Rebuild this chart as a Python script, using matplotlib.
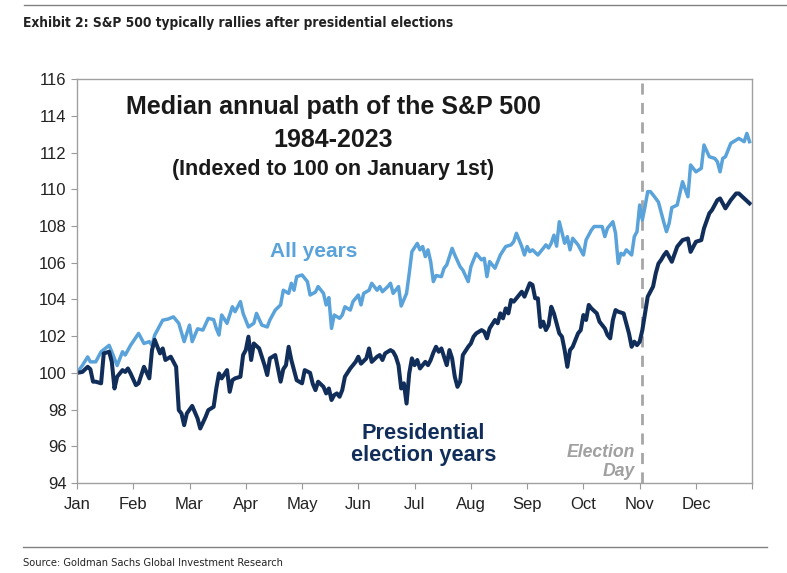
import matplotlib
matplotlib.use("Agg")
import matplotlib.pyplot as plt
from matplotlib.lines import Line2D
from matplotlib import font_manager

# trading day of the year and median index level
all_days = [0, 2, 4, 5, 7, 9, 12, 13, 15, 17, 18, 20, 23, 25, 27, 28, 29, 32, 34, 36,
            38, 40, 42, 43, 45, 47, 49, 51, 52, 53, 54, 56, 58, 59, 61, 62, 64, 66, 67, 69,
            71, 72, 74, 76, 77, 79, 80, 81, 82, 84, 86, 87, 89, 90, 92, 93, 94, 95, 96, 98,
            99, 100, 102, 103, 105, 106, 107, 109, 110, 112, 113, 114, 116, 117, 118, 120, 121, 123, 124, 125,
            127, 128, 129, 130, 131, 132, 133, 134, 136, 137, 138, 140, 141, 143, 144, 146, 147, 148, 149, 151,
            152, 153, 154, 156, 157, 158, 160, 162, 163, 164, 166, 167, 168, 169, 170, 172, 173, 174, 175, 176,
            177, 178, 179, 180, 182, 183, 184, 185, 187, 189, 190, 192, 193, 195, 196, 197, 198, 200, 201, 202,
            203, 204, 205, 207, 208, 209, 210, 211, 212, 213, 214, 215, 216, 217, 219, 220, 221, 222, 224, 226,
            228, 229, 231, 233, 234, 236, 238, 239, 240, 241, 242, 244, 246, 247, 249, 250, 251]
all_years = [100.0, 100.4, 100.87, 100.6, 100.6, 101.15, 101.5, 101.15, 100.4, 101.15, 100.97, 101.5, 102.15, 101.6, 101.7, 101.5, 102.05, 102.87, 102.93, 103.05,
             102.7, 101.7, 102.6, 101.7, 102.4, 102.33, 102.97, 102.9, 102.42, 102.06, 103.15, 102.7, 103.6, 103.33, 103.88, 103.24, 102.5, 102.7, 103.24, 102.6,
             102.5, 102.88, 103.42, 103.7, 104.5, 104.33, 104.88, 104.5, 105.24, 105.33, 104.97, 104.24, 104.4, 104.7, 104.33, 103.7, 104.1, 102.42, 103.15, 102.97,
             103.15, 103.6, 103.42, 103.88, 104.24, 103.7, 104.33, 104.5, 104.88, 104.5, 104.7, 104.42, 104.7, 104.88, 104.33, 104.7, 103.64, 104.33, 105.42, 106.6,
             107.05, 106.7, 106.88, 106.33, 106.7, 106.06, 104.97, 105.3, 105.24, 105.7, 105.88, 106.78, 106.42, 105.78, 105.6, 104.97, 105.78, 106.15, 106.5, 106.15,
             106.24, 105.24, 106.06, 105.7, 106.06, 106.42, 106.88, 106.97, 107.15, 107.6, 106.88, 106.42, 106.88, 106.6, 106.7, 106.42, 106.6, 106.78, 106.97, 106.8,
             107.06, 107.5, 106.9, 108.23, 107.06, 107.42, 106.7, 107.33, 106.97, 106.42, 107.24, 107.78, 107.97, 107.97, 107.97, 107.42, 107.88, 108.23, 107.6, 105.96,
             106.51, 106.42, 106.7, 106.42, 107.42, 107.69, 109.14, 108.33, 109.06, 109.87, 109.87, 109.69, 109.5, 109.3, 108.2, 107.69, 108.15, 109.0, 109.14, 110.41,
             109.59, 111.32, 110.95, 111.14, 112.41, 111.77, 111.68, 111.5, 110.95, 111.68, 111.77, 112.5, 112.68, 112.77, 112.59, 113.04, 112.59]

pres_days = [0, 2, 4, 5, 6, 7, 9, 10, 12, 13, 14, 15, 17, 18, 19, 20, 22, 23, 25, 27,
             28, 29, 31, 32, 33, 35, 36, 37, 38, 39, 40, 41, 43, 45, 46, 48, 49, 51, 52, 53,
             54, 56, 57, 58, 59, 61, 62, 63, 64, 65, 66, 68, 70, 71, 72, 74, 76, 77, 78, 79,
             80, 82, 84, 85, 87, 88, 89, 90, 92, 93, 94, 95, 96, 97, 98, 99, 100, 102, 103, 104,
             105, 106, 108, 109, 110, 112, 113, 114, 115, 117, 118, 119, 120, 121, 122, 123, 124, 125, 126, 127,
             128, 130, 131, 132, 133, 134, 135, 136, 138, 139, 140, 141, 142, 143, 144, 146, 147, 148, 149, 151,
             152, 153, 154, 156, 157, 158, 159, 160, 161, 162, 163, 165, 166, 167, 169, 170, 171, 172, 173, 174,
             175, 176, 177, 178, 180, 181, 182, 183, 184, 185, 187, 188, 189, 190, 191, 192, 194, 195, 197, 198,
             199, 200, 201, 202, 204, 205, 206, 207, 208, 209, 210, 211, 212, 213, 215, 216, 217, 218, 219, 220,
             222, 224, 226, 228, 229, 231, 233, 234, 236, 237, 239, 240, 242, 244, 246, 247, 249, 251]
pres_years = [100.0, 100.05, 100.33, 100.2, 99.52, 99.52, 99.43, 101.06, 101.15, 100.6, 99.15, 99.79, 100.15, 100.05, 100.24, 99.97, 99.33, 99.43, 100.33, 99.7,
              101.24, 101.8, 101.06, 101.33, 100.7, 100.88, 100.6, 100.33, 97.97, 97.79, 97.15, 97.79, 98.2, 97.52, 96.97, 97.6, 97.97, 98.15, 99.15, 99.97,
              99.7, 100.15, 98.97, 99.6, 99.7, 99.79, 100.97, 101.24, 101.97, 100.7, 101.6, 101.33, 100.42, 99.88, 100.79, 100.97, 99.52, 100.2, 100.42, 101.42,
              100.7, 99.6, 99.43, 100.15, 100.0, 99.4, 99.06, 99.52, 99.24, 98.88, 99.15, 98.52, 98.79, 98.88, 98.7, 99.06, 99.79, 100.24, 100.42, 100.6,
              100.88, 100.5, 100.79, 101.33, 100.6, 100.88, 100.97, 100.7, 101.06, 101.24, 101.15, 100.88, 100.42, 99.15, 99.43, 98.33, 99.97, 100.79, 100.42, 100.7,
              100.24, 100.6, 100.42, 100.7, 101.1, 101.42, 101.15, 101.33, 100.42, 101.24, 100.79, 99.79, 99.24, 99.52, 100.97, 101.42, 101.6, 101.97, 102.15, 102.33,
              102.24, 101.88, 102.42, 102.88, 102.7, 103.24, 102.97, 103.51, 103.24, 103.97, 103.88, 104.24, 104.42, 104.15, 104.88, 104.79, 104.06, 104.06, 102.5, 102.79,
              102.33, 102.6, 103.6, 103.24, 102.15, 101.97, 101.24, 100.33, 101.24, 101.42, 102.15, 102.33, 103.15, 102.88, 103.7, 103.51, 103.24, 102.79, 102.42, 102.06,
              101.88, 102.88, 103.42, 103.33, 103.24, 102.7, 102.15, 101.42, 101.7, 101.51, 101.7, 102.33, 103.24, 104.15, 104.7, 105.42, 105.95, 106.15, 106.4, 106.59,
              106.05, 106.87, 107.23, 107.32, 106.59, 107.14, 107.23, 107.87, 108.69, 108.87, 109.41, 109.5, 108.96, 109.41, 109.77, 109.77, 109.5, 109.23]

months = ["Jan", "Feb", "Mar", "Apr", "May", "Jun", "Jul", "Aug", "Sep", "Oct", "Nov", "Dec"]
election_day = 211

light_blue = "#5aa2da"
navy = "#112e5a"
grey = "#a6a6a6"

plt.rcParams["font.family"] = ["Liberation Sans", "DejaVu Sans"]

# narrow font for the header / footer, if a condensed face is installed
narrow = font_manager.FontProperties(family="DejaVu Sans", stretch="condensed")
narrow_file = font_manager.findfont(narrow, fallback_to_default=False)
if "ondensed" in narrow_file:
    head_kw = dict(family="DejaVu Sans", fontstretch="condensed")
    head_size, foot_size = 9.8, 7.9
else:
    head_kw = dict(family="Liberation Sans")
    head_size, foot_size = 9.5, 7.5

fig = plt.figure(figsize=(7.87, 5.73), dpi=100)
ax = fig.add_axes([0.0978, 0.157, 0.858, 0.705])

ax.plot(all_days, all_years, color=light_blue, lw=2.5, solid_joinstyle="round")
ax.plot(pres_days, pres_years, color=navy, lw=2.9, solid_joinstyle="round")
ax.axvline(election_day, color=grey, lw=2, ls=(0, (4, 3)), zorder=1)

ax.set_xlim(0, 252)
ax.set_ylim(94, 116)
ax.set_yticks(range(94, 117, 2))
ax.set_xticks(range(0, 253, 21))
ax.set_xticklabels(months + [""])
ax.tick_params(axis="both", direction="out", length=4, color="#999999",
               labelsize=12, labelcolor="#222222")
ax.tick_params(axis="x", pad=6)
for s in ax.spines.values():
    s.set_color("#a0a0a0")
    s.set_linewidth(1)

ax.text(0.38, 0.931, "Median annual path of the S&P 500", transform=ax.transAxes,
        ha="center", va="center", fontsize=18, fontweight="bold", color="#1a1a1a")
ax.text(0.38, 0.849, "1984-2023", transform=ax.transAxes,
        ha="center", va="center", fontsize=18, fontweight="bold", color="#1a1a1a")
ax.text(0.38, 0.775, "(Indexed to 100 on January 1st)", transform=ax.transAxes,
        ha="center", va="center", fontsize=15.5, fontweight="bold", color="#1a1a1a")

ax.text(0.351, 0.572, "All years", transform=ax.transAxes, ha="center", va="center",
        fontsize=15, fontweight="bold", color=light_blue)
ax.text(0.513, 0.095, "Presidential\nelection years", transform=ax.transAxes,
        ha="center", va="center", fontsize=15.7, fontweight="bold", color=navy,
        linespacing=1.05)
ax.text(0.827, 0.052, "Election\nDay", transform=ax.transAxes, ha="right", va="center",
        fontsize=12.7, fontweight="bold", style="italic", color="#a0a0a0", linespacing=1.15)

# header / footer
fig.add_artist(Line2D([0.03, 1.0], [1 - 5 / 573, 1 - 5 / 573], color="#808080", lw=1))
fig.text(0.029, 1 - 23 / 573, "Exhibit 2: S&P 500 typically rallies after presidential elections",
         fontweight="bold", fontsize=head_size, color="#222222", va="center", **head_kw)
fig.add_artist(Line2D([0.029, 0.975], [1 - 547 / 573, 1 - 547 / 573], color="#808080", lw=1))
fig.text(0.029, 1 - 563 / 573, "Source: Goldman Sachs Global Investment Research",
         fontsize=foot_size, color="#222222", va="center", **head_kw)

fig.savefig("out.png", dpi=100)
